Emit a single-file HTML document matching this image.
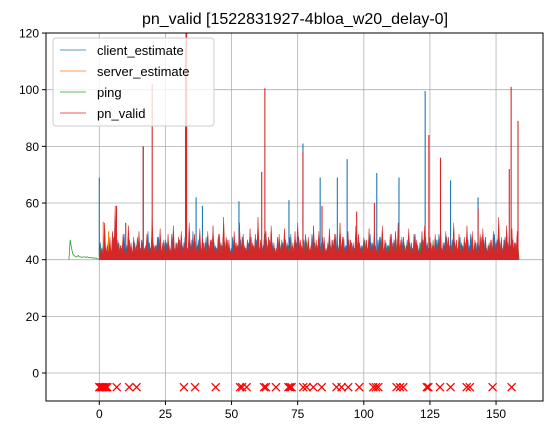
<!DOCTYPE html>
<html><head><meta charset="utf-8"><style>
body{margin:0;background:#fff;}
svg{display:block;font-family:"Liberation Sans","DejaVu Sans",sans-serif;}
</style></head><body>
<svg id="chart" width="555" height="435" xmlns="http://www.w3.org/2000/svg">
<rect width="555" height="435" fill="#fff"/>
<text x="295" y="24" font-size="16" text-anchor="middle">pn_valid [1522831927-4bloa_w20_delay-0]</text>
<g id="grid"></g>
<g id="plot"></g>
<rect x="46" y="33" width="497" height="368" fill="none" stroke="#000" stroke-width="1"/>
<g id="axes"></g>
<g>
<rect x="53" y="38" width="161" height="88" rx="3" fill="#fff" fill-opacity="0.8" stroke="#ccc"/>
<g><line x1="60" y1="50" x2="86" y2="50" stroke="#1f77b4" stroke-width="0.8"/><text x="97" y="55" font-size="13">client_estimate</text></g>
<g><line x1="60" y1="71" x2="86" y2="71" stroke="#ff7f0e" stroke-width="0.8"/><text x="97" y="76" font-size="13">server_estimate</text></g>
<g><line x1="60" y1="92" x2="86" y2="92" stroke="#2ca02c" stroke-width="0.8"/><text x="97" y="97" font-size="13">ping</text></g>
<g><line x1="60" y1="113" x2="86" y2="113" stroke="#d62728" stroke-width="0.8"/><text x="97" y="118" font-size="13">pn_valid</text></g>
</g>
</svg>
<script>
const xTicks=[0,25,50,75,100,125,150];
const yTicks=[0,20,40,60,80,100,120];
const redBase=[46,44,53,45,48,50,59,47,45,49,44,52,46,48,45,50,47,44,49,46,55,45,48,51,46,47,49,44,52,46,48,50,46,45,53,47,49,45,51,48,46,50,47,52,45,49,46,55,48,47,44,50,46,53,48,45,47,51,46,49,55,47,45,50,48,52,46,44,49,47,51,46,48,45,50,53,47,46,49,48,45,52,47,50,46,48,44,51,47,49,46,53,48,45,50,47,46,52,49,45,48,47,51,46,50,44,48,52,47,45,49,46,50,53,47,48,45,51,46,49,47,44,50,52,46,48,45,49,47,51,46,50,48,45,53,47,49,46,48,52,45,50,47,46,49,51,48,45,47,50,46,55,48,47,52,49,51,46,50];
const blueBase=[46,45,44,47,43,48,45,46,44,49,45,47,43,46,48,44,47,45,50,44,46,45,48,44,47,46,45,49,44,46,47,45,48,44,46,50,45,47,44,46,48,45,47,46,44,49,45,46,47,44,48,46,45,47,49,44,46,48,45,47,44,46,49,45,47,46,44,48,45,46,47,45,49,44,46,48,45,47,46,44,49,46,45,47,48,44,46,45,47,49,44,46,48,45,47,46,44,48,46,45,47,44,49,46,45,47,48,44,46,45,49,47,44,46,48,45,47,46,44,49,45,46,47,48,44,46,45,47,49,44,46,48,45,47,46,44,48,45,46,47,49,44,46,45,48,47,44,46,45,49,47,46,44,48,46,45,47,46];
const pingBase=[44,43,45,42,44,46,43,42,45,44,43,46,42,44,45,43,44,42,46,43,44,45,42,43,46,44,43,45,42,44,47,43,44,42,45,43,46,44,42,43,45,44,46,43,42,44,45,47,43,44,42,46,43,45,44,42,43,46,44,45,43,42,44,47,43,45,42,44,46,43,44,45,42,46,43,44,42,45,47,43,44,46,42,43,45,44,42,46,43,44,45,42,47,43,44,46,42,43,45,44,46,42,43,44,45,43,46,42,44,45,43,44,47,42,43,46,44,45,42,43,44,46,45,42,43,44,47,45,43,42,44,46,43,45,44,42,47,43,44,46,42,45,43,44,46,42,43,45,47,44,43,46,42,44,45,43,44,42,46];
const pingPreX=[-11.5,-11,-10.5,-10,-9.5,-9,-8.5,-8,-7.5,-7,-6.5,-6,-5.5,-5,-4.5,-4,-3.5,-3,-2.5,-2,-1.5,-1,-0.5,0];
const pingPreY=[40,47,44,42,41.5,41,41,41.5,41,41,40.8,41,41,40.8,41,40.7,40.8,40.6,40.7,40.5,40.6,40.5,40.3,40.2];
const redSpikeX=[16.6,20,32.8,33,61.4,62.6,77,84.2,97.3,104,124.6,129,143.2,155,155.7,158.3,6.5,10];
const redSpikeY=[80,102,125,125,71,100.5,78,59,57,60,84,76,58,72,101,89,59,53];
const blueSpikeX=[0,16.6,32.6,36.6,39,52.8,71.7,77,83.5,90,93.7,104.9,113.3,123.2,132.8,143.2];
const blueSpikeY=[69,80,115,62,59,60.6,61,81,69,69,75.5,70.6,69,99.5,68,62];
const serverSpikeX=[1.5,3.5];
const serverSpikeY=[53.4,50];
const markerX=[0,0.5,1,1.5,2,2.5,3,6.6,11.3,14.1,32,36.2,44,53.2,54,55.7,62.3,63,66.8,71.5,72.1,72.7,77.1,78.4,80.9,84.1,89.7,91.6,94.1,98.3,103.6,104.6,105.5,112.4,113.7,114.9,123.8,124.4,128.8,132.8,138.9,140.1,148.7,155.9];
const markerVal=-5;

const NS="http://www.w3.org/2000/svg";
const X=v=>99.3+v*2.645, Y=v=>373-v*2.833;
function mk(tag,attrs,parent){const e=document.createElementNS(NS,tag);for(const k in attrs)e.setAttribute(k,attrs[k]);parent.appendChild(e);return e;}
const grid=document.getElementById('grid'),plot=document.getElementById('plot'),axes=document.getElementById('axes');
xTicks.forEach(t=>{
  const l=mk('line',{x1:X(t),x2:X(t),y1:33,y2:401,stroke:'#b0b0b0','stroke-width':0.8},grid);
  
  
  mk('line',{x1:X(t),x2:X(t),y1:401,y2:405,stroke:'#000'},axes);
  const tx=mk('text',{x:X(t),y:418,'font-size':12,'text-anchor':'middle'},axes);tx.textContent=t;
  
  
});
yTicks.forEach(t=>{
  const l=mk('line',{x1:46,x2:543,y1:Y(t),y2:Y(t),stroke:'#b0b0b0','stroke-width':0.8},grid);
  
  
  mk('line',{x1:42,x2:46,y1:Y(t),y2:Y(t),stroke:'#000'},axes);
  const tx=mk('text',{x:39,y:Y(t)+4.5,'font-size':12,'text-anchor':'end'},axes);tx.textContent=t;
  
  
});
const clip=mk('clipPath',{id:'cp'},plot);mk('rect',{x:46,y:33,width:497,height:368},clip);
const g=mk('g',{'clip-path':'url(#cp)'},plot);
function spikes(base,off,color,name,lo,sw){
  let pts=[[X(off),Y(40)]];
  base.forEach((v,i)=>{pts.push([X(i+off),Y(v)]);pts.push([X(i+off+0.5),Y(lo)]);});
  pts.push([X(base.length-1+off+0.5),Y(40)]);
  const p=mk('polygon',{points:pts.map(p=>p.join(',')).join(' '),fill:color,stroke:color,'stroke-width':sw,'stroke-linejoin':'round'},g);
  
  
}
function tall(xs,ys,color,name){
  xs.forEach((x,i)=>{
    const l=mk('line',{x1:X(x),x2:X(x),y1:Y(41),y2:Y(ys[i]),stroke:color,'stroke-width':1.1},g);
    
    
  });
}
spikes(blueBase,0.4,'#1f77b4','client-estimate-series',41,0.6);
tall(blueSpikeX,blueSpikeY,'#1f77b4','client-estimate-spike');
tall(serverSpikeX,serverSpikeY,'#ff7f0e','server-estimate-spike');
const pre=mk('polyline',{points:pingPreX.map((x,i)=>X(x)+','+Y(pingPreY[i])).join(' '),fill:'none',stroke:'#2ca02c','stroke-width':0.8},g);


spikes(pingBase,0.2,'#2ca02c','ping-series',40.5,0.6);
spikes(redBase,0,'#d62728','pn-valid-series',41.5,0.5);
tall(redSpikeX,redSpikeY,'#d62728','pn-valid-spike');
markerX.forEach(x=>{
  const cx=X(x),cy=Y(markerVal),s=4;
  const m=mk('path',{d:`M${cx-s},${cy-s}L${cx+s},${cy+s}M${cx-s},${cy+s}L${cx+s},${cy-s}`,stroke:'#ff0000','stroke-width':1.3,fill:'none'},g);
  
  
});
</script>
</body></html>
